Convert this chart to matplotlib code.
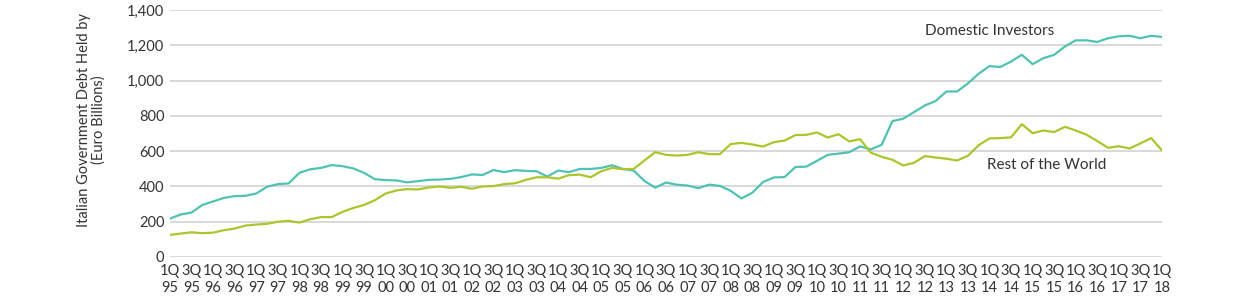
import matplotlib
matplotlib.use("Agg")
import matplotlib.pyplot as plt
import numpy as np

# Quarterly data 1Q95 .. 1Q18 (Euro billions)
quarters = [f"{q}Q{y:02d}" for y in list(range(95, 100)) + list(range(0, 19))
            for q in (1, 2, 3, 4)][:93]

domestic = [218, 241, 252, 295, 315, 335, 345, 347, 360, 398, 413, 417,
            477, 497, 505, 521, 515, 502, 477, 441, 436, 434, 423, 430,
            437, 439, 443, 453, 468, 465, 493, 481, 492, 488, 486, 456,
            490, 481, 499, 499, 505, 520, 499, 490, 431, 393, 422, 410,
            405, 390, 410, 403, 375, 332, 364, 425, 451, 453, 510, 512,
            545, 579, 586, 594, 627, 610, 636, 770, 784, 821, 859, 884,
            938, 938, 984, 1039, 1082, 1077, 1108, 1146, 1093, 1127, 1146, 1193,
            1228, 1228, 1219, 1240, 1251, 1254, 1240, 1254, 1247]

rest_of_world = [125, 133, 140, 135, 138, 152, 161, 178, 184, 188, 200, 205,
                 195, 214, 226, 226, 256, 278, 295, 322, 360, 377, 385, 383,
                 394, 400, 392, 398, 387, 400, 402, 413, 418, 437, 452, 452,
                 444, 464, 467, 452, 486, 505, 498, 499, 547, 594, 579, 575,
                 579, 594, 583, 583, 640, 647, 638, 626, 651, 660, 691, 692,
                 706, 677, 696, 655, 668, 591, 568, 551, 519, 534, 572, 564,
                 557, 547, 574, 634, 672, 674, 678, 753, 702, 717, 708, 738,
                 717, 693, 657, 619, 628, 615, 644, 674, 604]

y_ticks = [0, 200, 400, 600, 800, 1000, 1200, 1400]
y_tick_labels = ["0", "200", "400", "600", "800", "1,000", "1,200", "1,400"]
series_labels = ["Domestic Investors", "Rest of the World"]
y_title = "Italian Government Debt Held by\n(Euro Billions)"

plt.rcParams['font.family'] = ['Lato', 'DejaVu Sans']

fig = plt.figure(figsize=(12.38, 3.02), dpi=100)
ax = fig.add_axes([170 / 1238, 1 - 257 / 302, (1162 - 170) / 1238, (257 - 10) / 302])

x = np.arange(len(quarters))
teal = "#4fc2b4"
green = "#adc52c"
ax.plot(x, domestic, color=teal, lw=1.6, zorder=3)
ax.plot(x, rest_of_world, color=green, lw=1.6, zorder=3)

ax.set_xlim(0, len(quarters) - 1)
ax.set_ylim(0, 1400)
ax.set_yticks(y_ticks)
ax.set_yticklabels(y_tick_labels)
ax.yaxis.grid(True, color="#d6d6d6", lw=1.3)
ax.set_axisbelow(True)

xt = x[::2]
ax.set_xticks(xt)
ax.set_xticklabels([q[:2] + "\n" + q[2:] for q in quarters[::2]], linespacing=1.25)

for s in ax.spines.values():
    s.set_visible(False)
ax.tick_params(axis="both", length=0, labelsize=10.5, colors="#333333")
ax.tick_params(axis="y", pad=4)
ax.tick_params(axis="x", pad=5)

ax.set_ylabel(y_title, fontsize=10.5, color="#333333", linespacing=1.05)
ax.yaxis.set_label_coords(-64 / 992, (257 - 120) / 247)

ax.text(70.0, 1280, series_labels[0], fontsize=11, color="#333333", va="center", ha="left")
ax.text(75.8, 520, series_labels[1], fontsize=11, color="#333333", va="center", ha="left")

fig.savefig("out.png", dpi=100)
